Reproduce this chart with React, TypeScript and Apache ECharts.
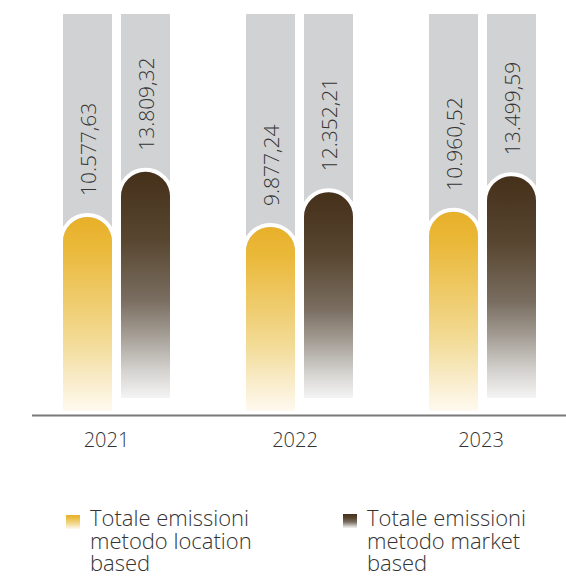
import React, { useEffect, useRef } from "react";
import * as echarts from "echarts";

const years = ["2021", "2022", "2023"];
const locationValues = [10577.63, 9877.24, 10960.52];
const marketValues = [13809.32, 12352.21, 13499.59];
const seriesNames = [
  "Totale emissioni metodo location based",
  "Totale emissioni metodo market based",
];
const legendLines = [
  ["Totale emissioni", "metodo location", "based"],
  ["Totale emissioni", "metodo market", "based"],
];

const BAR_W = 49;
const GAP = 9;
const GREY = "#d1d2d3";
const TEXT = "#333333";
const FONT = "'Open Sans', Roboto, sans-serif";
const YEAR_LABEL_SHIFT = [-10, -4.5, -1.5];

const goldStops = [
  { offset: 0, color: "#e8b02a" },
  { offset: 0.15, color: "#eab838" },
  { offset: 0.45, color: "#efcd70" },
  { offset: 0.65, color: "#f3dc98" },
  { offset: 0.8, color: "#f7e8bf" },
  { offset: 1, color: "#fffaf0" },
];
const brownStops = [
  { offset: 0, color: "#45301a" },
  { offset: 0.3, color: "#584630" },
  { offset: 0.57, color: "#7a6e61" },
  { offset: 0.74, color: "#a9a39b" },
  { offset: 0.88, color: "#d5d3d0" },
  { offset: 1, color: "#f4f4f4" },
];

function fmtIt(v: number): string {
  const [i, d] = v.toFixed(2).split(".");
  return i.replace(/\B(?=(\d{3})+(?!\d))/g, ".") + "," + d;
}

function makeRenderItem(side: number, stops: any[], bottomLift: number, withYear: boolean) {
  return (params: any, api: any) => {
    const idx = api.value(0);
    const val = api.value(1);
    const pt = api.coord([idx, val]);
    const cs = params.coordSys;
    const cx = pt[0] + side * (GAP / 2 + BAR_W / 2);
    const x0 = cx - BAR_W / 2;
    const top = pt[1];
    const bottom = cs.y + cs.height - bottomLift;
    const r = BAR_W / 2;
    const children: any[] = [
      {
        type: "rect",
        shape: { x: x0, y: cs.y, width: BAR_W, height: top + r - cs.y },
        style: { fill: GREY },
      },
      {
        type: "arc",
        shape: {
          cx,
          cy: top + r,
          r: r + 2,
          startAngle: Math.PI,
          endAngle: 2 * Math.PI,
        },
        style: { stroke: "#ffffff", lineWidth: 4, fill: null },
      },
      {
        type: "rect",
        shape: {
          x: x0,
          y: top,
          width: BAR_W,
          height: bottom - top,
          r: [r, r, 0, 0],
        },
        style: { fill: new echarts.graphic.LinearGradient(0, 0, 0, 1, stops) },
      },
      {
        type: "text",
        x: cx,
        y: top - 21,
        rotation: Math.PI / 2,
        style: {
          text: fmtIt(val),
          fill: TEXT,
          fontSize: 21,
          fontWeight: 300,
          fontFamily: FONT,
          align: "left",
          verticalAlign: "middle",
        },
      },
    ];
    if (withYear) {
      children.push({
        type: "text",
        x: pt[0] + YEAR_LABEL_SHIFT[idx],
        y: cs.y + cs.height + 28,
        style: {
          text: years[idx],
          fill: TEXT,
          fontSize: 20,
          fontWeight: 300,
          fontFamily: FONT,
          align: "center",
          verticalAlign: "middle",
        },
      });
    }
    return { type: "group", children };
  };
}

export default function App() {
  const ref = useRef<HTMLDivElement>(null);
  useEffect(() => {
    if (!ref.current) return;
    const chart = echarts.init(ref.current, null, { renderer: "svg" });
    const legendGraphics: any[] = [];
    const legendPos = [
      { ix: 66, iy: 515, tx: 90, stops: goldStops },
      { ix: 343, iy: 514, tx: 367, stops: brownStops },
    ];
    legendPos.forEach((p, i) => {
      legendGraphics.push({
        type: "rect",
        left: p.ix,
        top: p.iy,
        shape: { width: 14, height: 14 },
        style: { fill: new echarts.graphic.LinearGradient(0, 0, 0, 1, p.stops) },
      });
      legendGraphics.push({
        type: "text",
        left: p.tx,
        top: 506,
        style: {
          text: legendLines[i].join("\n"),
          fill: TEXT,
          fontSize: 22,
          fontWeight: 300,
          fontFamily: FONT,
          lineHeight: 22.5,
        },
      });
    });

    const gridLeft = 25;
    const gridWidth = 541;
    const band = 183;

    chart.setOption({
      animation: false,
      grid: { left: gridLeft, top: 14, width: gridWidth, height: 397 },
      xAxis: {
        type: "value",
        min: -0.5,
        max: -0.5 + gridWidth / band,
        show: false,
      },
      yAxis: { type: "value", min: -3270, max: 25080, show: false },
      graphic: [
        {
          type: "line",
          shape: { x1: 32, y1: 415.5, x2: 566, y2: 415.5 },
          style: { stroke: "#7a7a7a", lineWidth: 2 },
        },
        ...legendGraphics,
      ],
      series: [
        {
          type: "custom",
          name: seriesNames[0],
          clip: false,
          encode: { x: 0, y: 1 },
          data: locationValues.map((v, i) => [i, v]),
          renderItem: makeRenderItem(-1, goldStops, 0, true),
        },
        {
          type: "custom",
          name: seriesNames[1],
          clip: false,
          encode: { x: 0, y: 1 },
          data: marketValues.map((v, i) => [i, v]),
          renderItem: makeRenderItem(1, brownStops, 13, false),
        },
      ],
    });
    return () => chart.dispose();
  }, []);
  return (
    <div
      ref={ref}
      style={{ position: "absolute", left: 0, top: 0, width: 566, height: 576 }}
    />
  );
}
